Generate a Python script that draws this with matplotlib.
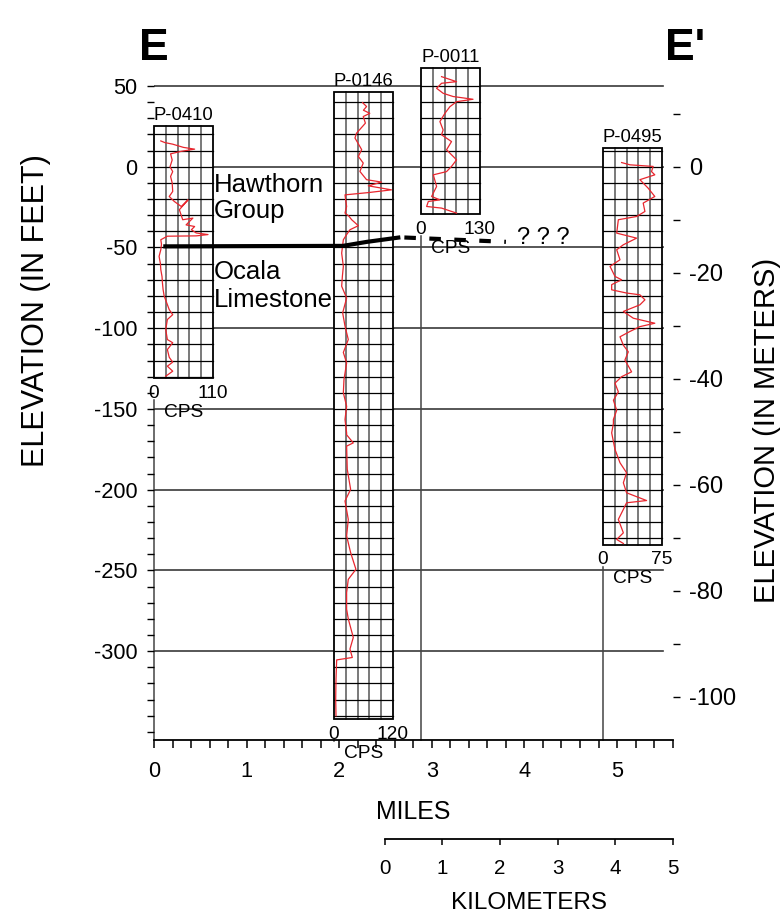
import numpy as np
import matplotlib
matplotlib.use('Agg')
import matplotlib.pyplot as plt
from matplotlib import font_manager, transforms
from matplotlib.patches import Rectangle

# fonts: condensed face if we have it
names = {f.name for f in font_manager.fontManager.ttflist}
if 'Liberation Sans Narrow' in names:
    NARROW, k = 'Liberation Sans Narrow', 1.0
else:
    NARROW, k = 'Liberation Sans', 0.92
WIDE = 'Liberation Sans'
plt.rcParams['font.family'] = [NARROW, 'DejaVu Sans']
plt.rcParams['lines.scale_dashes'] = False
plt.rcParams['axes.unicode_minus'] = False

# wells along the section (miles), log intervals (ft) and CPS scale
well_names = ['P-0410', 'P-0146', 'P-0011', 'P-0495']
well_mi = [0.0, 1.944, 2.883, 4.849]
log_top = [25, 46.5, 61, 11.5]
log_bottom = [-131, -342, -29.5, -234]
cps_max = [110, 120, 130, 75]

# gamma logs: (CPS, elevation ft)
p0410_cps = [12.7, 20, 34.8, 55, 76, 50, 31, 34, 30, 35, 31, 34, 35, 28.5, 38, 51, 63.7, 47.4,
             53.7, 72.7, 60, 76, 70, 79, 101, 79, 25, 12.7, 14, 12.7, 9.5, 12, 12.7, 15,
             15.8, 17, 19, 28.5, 35, 25, 22, 25, 35, 25, 28.5, 35, 25, 35, 22]
p0410_elev = [16, 15, 14, 12, 10.9, 9.5, 8, 4.2, 0, -3, -6, -10, -15.3, -18.4, -21.5, -24.6,
              -20.5, -26.6, -32.8, -31.8, -36, -37, -39, -41, -42, -42.8, -43, -45.2, -48,
              -51.4, -55.5, -60, -63.7, -68, -72, -76, -80, -88.5, -91.6, -94.6, -100.9,
              -107, -109, -113.2, -118, -121, -123.5, -126.6, -129.7]

p0146_cps = [58.3, 66.4, 60, 73, 59.6, 64, 46, 42.7, 50, 56.4, 49.6, 59.6, 52.8, 66.4, 97,
             69.9, 117.2, 69.9, 22.4, 24, 25.7, 22.4, 30, 36, 49.6, 32.5, 25.7, 19, 15.6,
             19, 17, 15.6, 25.7, 17.6, 22.4, 29.1, 19, 25.7, 20.3, 19, 25.7, 22.4, 25.7,
             25.7, 39.3, 25.7, 27, 33.9, 22.4, 29.1, 25.7, 33.9, 44.7, 29.1, 25.7, 25.7,
             29.1, 39.3, 32.5, 37.3, 5.4, 4, 3.4, 4]
p0146_elev = [39.7, 37.3, 35, 33.1, 31.1, 27, 20.8, 17.8, 14, 10.6, 6.4, 2.3, -2.9, -8, -9.5,
              -11.8, -14.3, -16, -17.4, -21, -24.6, -28.7, -30.5, -32.8, -36.5, -39, -42,
              -45.2, -53.5, -61.7, -68, -74, -81.3, -90.5, -98.7, -107, -115, -121.5,
              -131.8, -140, -148.3, -156.5, -164.8, -166, -171, -173, -187.4, -199.8, -207,
              -218.4, -228.6, -239, -249.3, -255.5, -263.7, -274, -280, -291.5, -298.7,
              -303.9, -305.4, -317.3, -329.7, -340]

p0011_cps = [45.5, 78.6, 45.5, 34.5, 49, 71, 115, 78.6, 63.9, 52.9, 41.8, 49, 45.5, 67.5,
             56.5, 78.6, 67.5, 56.5, 27.2, 34.5, 23.5, 41.8, 16.2, 12.5, 45.5, 78.6]
p0011_elev = [55.8, 52.7, 51.7, 48.6, 45.5, 43.5, 41.8, 40.3, 37.2, 33.1, 28, 22.8, 19.8, 15.6,
              10.5, 4.3, 0.2, -3, -5, -12.2, -18.4, -20.5, -21.5, -24.6, -25.6, -28.7]

p0495_cps = [23.7, 34.3, 63.9, 61.8, 66, 47, 57.6, 66, 51.2, 53.4, 42.8, 19.5, 17.4, 42.8, 25.9,
             17.4, 21.6, 8.9, 15.2, 23.7, 11, 11, 30, 47, 53.4, 47, 25.9, 38.6, 66, 47, 34.3,
             21.6, 25.9, 32.2, 27.9, 36.4, 23.7, 15.2, 19.5, 13.2, 17.4, 13.2, 13.2, 11,
             15.2, 21.6, 30, 25.9, 30, 55.5, 30, 25.9, 19.5, 25.9, 17.4, 25.9]
p0495_elev = [2.6, 1.2, 0.2, -3, -5, -8, -13.3, -18.4, -22.5, -27.7, -30.8, -32.8, -41.1, -44.2,
              -48.3, -51.4, -57.6, -61.7, -67.9, -70, -73, -76.2, -78.2, -79.3, -82.4, -85.5,
              -89.6, -93.8, -96.9, -99, -102, -105.3, -110.5, -114.6, -119.7, -127, -130,
              -134, -139.4, -144.6, -150.8, -156.5, -159, -164.8, -175, -183.3, -189.5,
              -195.7, -201.9, -206.7, -208.1, -212.2, -218.4, -226.7, -230.8, -233.3]

log_cps = [p0410_cps, p0146_cps, p0011_cps, p0495_cps]
log_elev = [p0410_elev, p0146_elev, p0011_elev, p0495_elev]

# Hawthorn / Ocala contact
contact_mi = [0.10, 2.04, 2.30, 2.66]
contact_ft = [-49.3, -49.0, -46.5, -43.7]
inferred_mi = [2.66, 3.80]
inferred_ft = [-43.7, -46.5]

box_w = 0.635
fig = plt.figure(figsize=(7.82, 9.19), dpi=100)
ax = fig.add_axes([154 / 782, 1 - 740 / 919, (672.6 - 154) / 782, (740 - 61.8) / 919])
ax.set_xlim(0, 5.6)
ax.set_ylim(-355, 65)
for s in ['left', 'right', 'top']:
    ax.spines[s].set_visible(False)
ax.spines['bottom'].set_linewidth(1.3)

ax.set_xticks(range(6))
ax.set_xticks(np.arange(0, 5.61, 0.2), minor=True)
ax.set_yticks(range(50, -301, -50))
ax.set_yticks(range(50, -351, -10), minor=True)
ax.tick_params(axis='x', which='both', direction='out', length=6, width=1.1, pad=9,
               labelsize=17 * k)
ax.tick_params(axis='y', which='both', direction='out', length=5, width=1.0, pad=7,
               labelsize=17 * k)

# 50-ft lines
for v in range(50, -301, -50):
    ax.plot([0, 5.5], [v, v], color='#3a3a3a', lw=1.2, zorder=1)

for i, name in enumerate(well_names):
    x0 = well_mi[i]
    top, bot = log_top[i], log_bottom[i]
    # well line below log
    ax.plot([x0, x0], [bot - 13.6, -355], color='#444444', lw=1.1, zorder=1, clip_on=False)
    ax.add_patch(Rectangle((x0, bot), box_w, top - bot, facecolor='white', edgecolor='none',
                           zorder=3))
    for j in range(1, 5):
        xx = x0 + box_w * j / 5
        ax.plot([xx, xx], [bot, top], color='#555555', lw=1.1, zorder=4)
    for v in range(-400, 100, 10):
        if bot < v < top - 1:
            ax.plot([x0, x0 + box_w], [v, v], color='black', lw=0.9, zorder=4)
    ax.add_patch(Rectangle((x0, bot), box_w, top - bot, facecolor='none', edgecolor='black',
                           lw=1.3, zorder=5, clip_on=False))
    xs = x0 + np.array(log_cps[i]) / cps_max[i] * box_w
    ax.plot(xs, log_elev[i], color='#e8262e', lw=0.9, zorder=6, clip_on=False)
    ax.annotate(name, (x0 + box_w / 2, top), xytext=(0, 4.3), textcoords='offset points',
                ha='center', va='baseline', fontsize=14.5 * k, zorder=8, annotation_clip=False)
    ax.annotate('0', (x0, bot), xytext=(0, -11), textcoords='offset points',
                ha='center', va='center', fontsize=15 * k, zorder=8, annotation_clip=False)
    ax.annotate(str(cps_max[i]), (x0 + box_w, bot), xytext=(0, -11), textcoords='offset points',
                ha='center', va='center', fontsize=15 * k, zorder=8, annotation_clip=False)
    ax.annotate('CPS', (x0 + box_w / 2, bot), xytext=(0, -24.5), textcoords='offset points',
                ha='center', va='center', fontsize=15 * k, zorder=8, annotation_clip=False)

ax.plot(contact_mi, contact_ft, color='black', lw=3, solid_capstyle='butt', zorder=7)
ax.plot(inferred_mi, inferred_ft, color='black', lw=3, dash_capstyle='butt', zorder=7,
        linestyle=(15.1, (8.3, 9.7)))
ax.text(3.92, -47.7, '? ? ?', fontsize=18.5 * k, ha='left', va='baseline', zorder=8)

for label, yb in [('Hawthorn', -15.5), ('Group', -31.6), ('Ocala', -69.3), ('Limestone', -86.6)]:
    ax.text(0.648, yb, label, family=WIDE, fontsize=18.5, ha='left', va='baseline', zorder=8)

# meters on the right
ax2 = ax.twinx()
ax2.set_ylim(-355 * 0.3048, 65 * 0.3048)
for s in ax2.spines.values():
    s.set_visible(False)
ax2.set_yticks(range(0, -101, -20))
ax2.set_yticks(range(10, -101, -10), minor=True)
ax2.tick_params(axis='y', which='both', direction='out', length=5, width=1.0, pad=7,
                labelsize=18.5 * k)

ax.set_xlabel('MILES', fontsize=19.5 * k, labelpad=13)
fig.text(36 / 782, 1 - 311 / 919, 'ELEVATION (IN FEET)', family=WIDE, fontsize=22,
         rotation=90, ha='center', va='center')
fig.text(767 / 782, 1 - 430 / 919, 'ELEVATION (IN METERS)', family=WIDE, fontsize=21,
         rotation=90, ha='center', va='center')
fig.text(139 / 782, 1 - 60 / 919, 'E', fontsize=32, fontweight='bold', ha='left',
         va='baseline')
fig.text(665 / 782, 1 - 60 / 919, "E'", fontsize=32, fontweight='bold', ha='left',
         va='baseline')

# kilometer scale bar, ending at the right end of the miles axis
km_right = 5.6 / 0.621371
axk = fig.add_axes([154 / 782, 1 - 839.3 / 919, (672.6 - 154) / 782, 0.001])
axk.set_xlim(5 - km_right, 5)
axk.patch.set_visible(False)
for s in ['left', 'right', 'top']:
    axk.spines[s].set_visible(False)
axk.spines['bottom'].set_bounds(0, 5)
axk.spines['bottom'].set_linewidth(1.3)
axk.set_yticks([])
axk.set_xticks(range(6))
axk.tick_params(axis='x', direction='out', length=4, width=1.1, pad=10, labelsize=16 * k)
trk = transforms.blended_transform_factory(axk.transData, fig.transFigure)
axk.text(2.5, 1 - 903 / 919, 'KILOMETERS', transform=trk, fontsize=19 * k, ha='center',
         va='center')

fig.savefig('out.png', dpi=100)
